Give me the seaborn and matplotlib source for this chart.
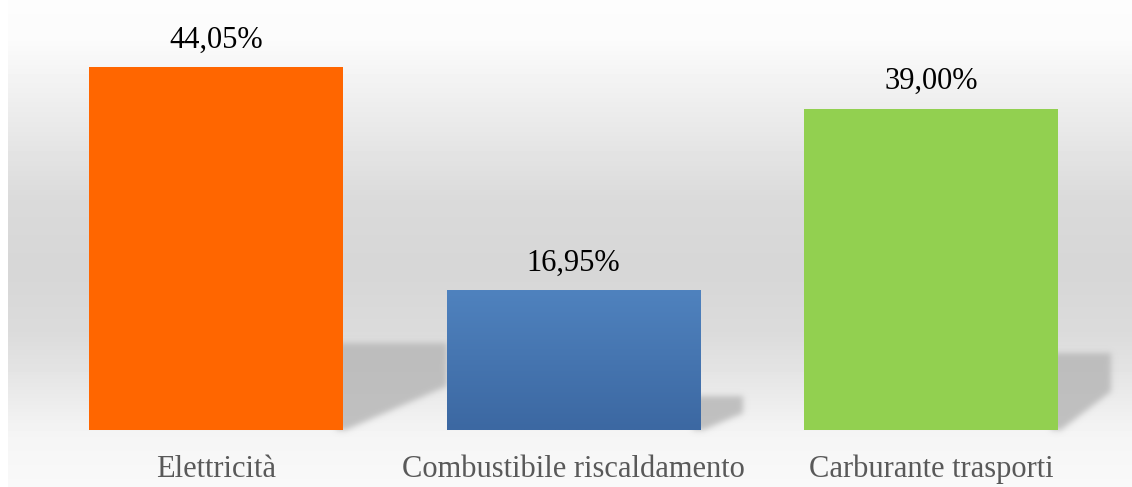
import numpy as np
import pandas as pd
import matplotlib
matplotlib.use("Agg")
import matplotlib.pyplot as plt
import seaborn as sns
from matplotlib.path import Path
from matplotlib.colors import LinearSegmentedColormap

# data
categories = ["Elettricità", "Combustibile riscaldamento", "Carburante trasporti"]
values = [44.05, 16.95, 39.00]
value_labels = ["44,05%", "16,95%", "39,00%"]
colors = ["#FF6600", "#4A7EBB", "#92D050"]
shadow_len = [0.29, 0.12, 0.15]

df = pd.DataFrame({"cat": categories, "val": values})

sns.set_theme(style="white")
plt.rcParams['font.family'] = ['Liberation Serif', 'DejaVu Serif']

W, H = 1132, 487
fig = plt.figure(figsize=(W / 100, H / 100), dpi=100)
fig.patch.set_facecolor("white")
ax = fig.add_axes([8 / W, 0, (W - 8) / W, 1])

x0, x1 = -0.581, 2.561
y0, y1 = -6.92, 52.18
ax.set_xlim(x0, x1)
ax.set_ylim(y0, y1)
nx, ny = W - 8, H

# gray background gradient (top to bottom)
stops_px = [0, 40, 100, 200, 270, 333, 367, 433, 487]
stops_gray = [0.99, 0.985, 0.935, 0.855, 0.84, 0.86, 0.89, 0.96, 0.975]
rows = np.interp(np.arange(H), stops_px, stops_gray)
bg = np.repeat(rows[:, None], nx, axis=1)
ax.imshow(bg, extent=(x0, x1, y0, y1), aspect="auto", cmap="gray",
          vmin=0, vmax=1, origin="upper", zorder=0, interpolation="nearest")

# bars
bw = 0.71
sns.barplot(data=df, x="cat", y="val", hue="cat", palette=colors, legend=False,
            width=bw, saturation=1, ax=ax, zorder=3, linewidth=0)

# soft perspective shadows behind bars
xs = np.linspace(x0, x1, nx)
ys = np.linspace(y1, y0, ny)
gx, gy = np.meshgrid(xs, ys)
pts = np.column_stack([gx.ravel(), gy.ravel()])
mask = np.zeros(nx * ny)
for i, v in enumerate(values):
    right = i + bw / 2
    top = 0.24 * v
    ext = shadow_len[i]
    poly = Path([(right - 0.02, 0), (right - 0.02, top), (right + ext, top),
                 (right + ext, top * 0.5), (right + 0.01, 0), (right - 0.02, 0)])
    mask = np.maximum(mask, poly.contains_points(pts).astype(float))
mask = mask.reshape(ny, nx)


def blur(a, s):
    k = np.exp(-0.5 * (np.arange(-3 * s, 3 * s + 1) / s) ** 2)
    k /= k.sum()
    a = np.apply_along_axis(lambda r: np.convolve(r, k, mode="same"), 1, a)
    a = np.apply_along_axis(lambda c: np.convolve(c, k, mode="same"), 0, a)
    return a


mask = np.clip(blur(mask, 3), 0, 1)
shadow = np.zeros((ny, nx, 4))
shadow[..., :3] = 0.72
shadow[..., 3] = mask * 0.85
ax.imshow(shadow, extent=(x0, x1, y0, y1), aspect="auto", origin="upper",
          zorder=2, interpolation="nearest")

# blue bar gets a vertical gradient
blue = ax.patches[1]
bx, by = blue.get_x(), blue.get_y()
grad = LinearSegmentedColormap.from_list("bl", ["#3C68A2", "#4F82BE"])
im = ax.imshow(np.linspace(0, 1, 100)[::-1, None], cmap=grad, aspect="auto",
               extent=(bx, bx + blue.get_width(), by, by + blue.get_height()),
               origin="upper", zorder=4)
im.set_clip_path(blue)
ax.set_xlim(x0, x1)
ax.set_ylim(y0, y1)

# labels
for i, (v, lab) in enumerate(zip(values, value_labels)):
    ax.text(i, v + 2.35, lab, ha="center", va="baseline", fontsize=22,
            color="black", zorder=5)
for i, c in enumerate(categories):
    ax.text(i, -5.75, c, ha="center", va="baseline", fontsize=22,
            color="#595959", zorder=5)

ax.set_xticks([])
ax.set_yticks([])
ax.set_xlabel("")
ax.set_ylabel("")
for s in ax.spines.values():
    s.set_visible(False)

fig.savefig("out.png", dpi=100)
